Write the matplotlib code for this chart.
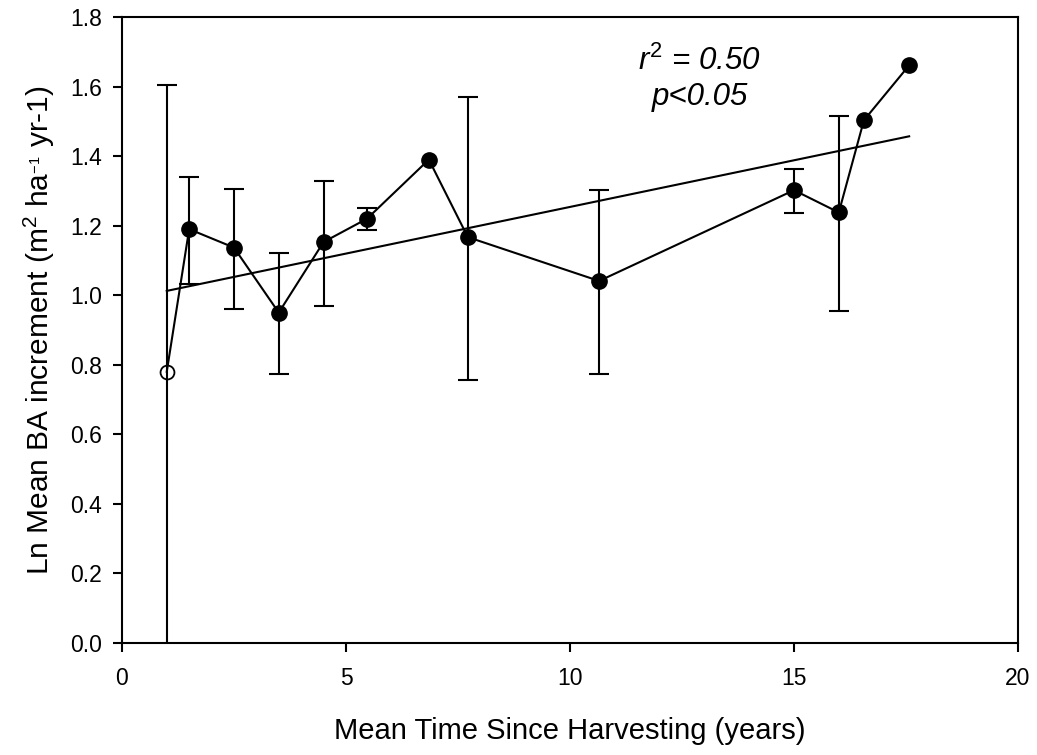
import numpy as np
import matplotlib.pyplot as plt

plt.rcParams['font.family'] = ['Liberation Sans', 'DejaVu Sans']
plt.rcParams['mathtext.fontset'] = 'custom'
plt.rcParams['mathtext.rm'] = 'Liberation Sans'
plt.rcParams['mathtext.it'] = 'Liberation Sans:italic'

# Mean time since harvesting (years) and ln mean BA increment
years = [1.0, 1.5, 2.5, 3.5, 4.5, 5.47, 6.85, 7.72, 10.65, 15.0, 16.0, 16.56, 17.57]
ln_ba = [0.78, 1.19, 1.137, 0.95, 1.153, 1.22, 1.39, 1.167, 1.041, 1.302, 1.238, 1.503, 1.661]
err_hi = [1.605, 1.341, 1.305, 1.122, 1.328, 1.251, np.nan, 1.570, 1.302, 1.362, 1.515, np.nan, np.nan]
err_lo = [-0.2, 1.032, 0.961, 0.773, 0.970, 1.187, np.nan, 0.756, 0.774, 1.236, 0.955, np.nan, np.nan]

x = np.array(years)
y = np.array(ln_ba)
hi = np.array(err_hi)
lo = np.array(err_lo)

fig = plt.figure(figsize=(10.37, 7.55), dpi=100)
ax = fig.add_axes([0.1176, 0.1483, 0.8641, 0.8292])

# error bars (only where present)
has_err = ~np.isnan(hi)
ax.errorbar(x[has_err], y[has_err],
            yerr=[y[has_err] - lo[has_err], hi[has_err] - y[has_err]],
            fmt='none', ecolor='black', elinewidth=1.5, capsize=7, capthick=1.5, zorder=2)

# connecting line and markers
ax.plot(x, y, color='black', lw=1.5, zorder=3)
ax.plot(x[1:], y[1:], 'o', color='black', ms=11, zorder=4)
ax.plot(x[:1], y[:1], 'o', mfc='none', mec='black', mew=1.3, ms=10, zorder=4)

# linear regression line
slope, intercept = np.polyfit(x, y, 1)
xf = np.array([x.min(), x.max()])
ax.plot(xf, intercept + slope * xf, color='black', lw=1.5, zorder=3)

ax.text(0.645, 0.915, r'$r^2$ = 0.50', transform=ax.transAxes, ha='center', va='baseline',
        fontsize=22.5, style='italic')
ax.text(0.645, 0.859, 'p<0.05', transform=ax.transAxes, ha='center', va='baseline',
        fontsize=22.5, style='italic')

ax.set_xlim(0, 20)
ax.set_ylim(0, 1.8)
ax.set_xticks([0, 5, 10, 15, 20])
ax.set_yticks(np.arange(0, 1.81, 0.2))
ax.set_yticklabels([f'{v:.1f}' for v in np.arange(0, 1.81, 0.2)])
ax.tick_params(direction='out', length=6.5, width=1.5, labelsize=16.5)
ax.tick_params(axis='x', pad=11)
ax.tick_params(axis='y', pad=8)
for s in ax.spines.values():
    s.set_linewidth(1.5)

ax.set_xlabel('Mean Time Since Harvesting (years)', fontsize=21)
ax.set_ylabel(r'Ln Mean BA increment (m$^{2}$ ha$^{_{-1}}$ yr-1)', fontsize=21.5)
ax.xaxis.set_label_coords(0.5, -0.118)
ax.yaxis.set_label_coords(-0.072, 0.5)

fig.savefig('out.png', dpi=100)
